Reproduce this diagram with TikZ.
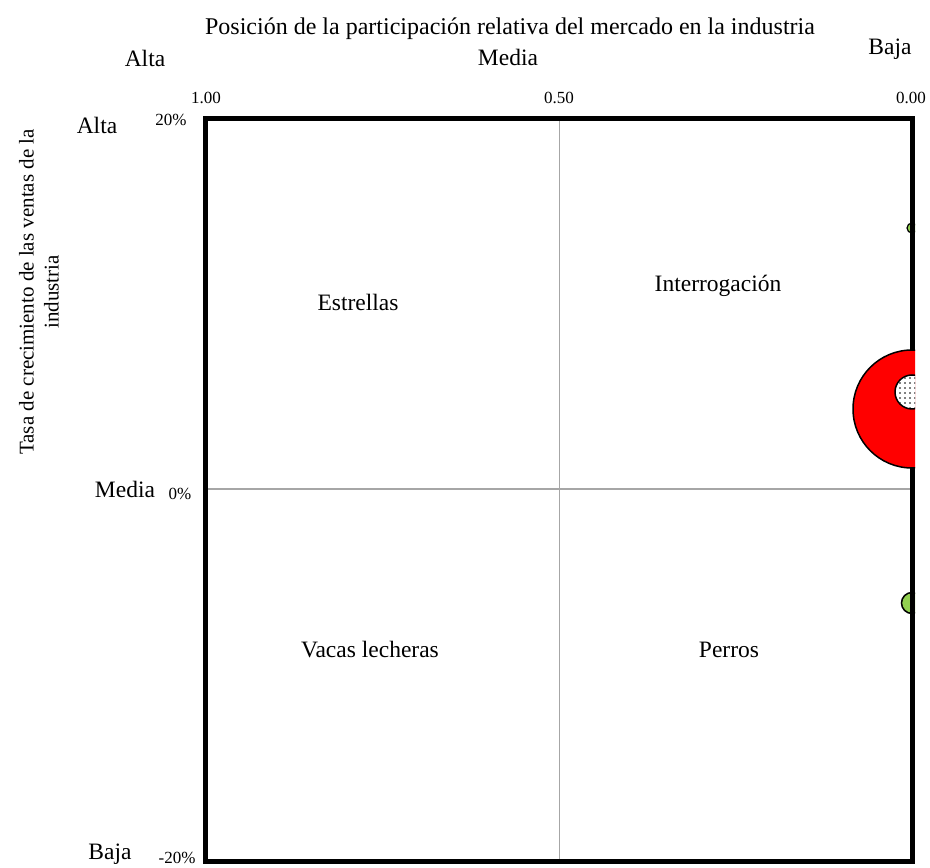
\documentclass[tikz,border=0pt]{standalone}
\usepackage{fontspec}
\setmainfont{Liberation Serif}
\usetikzlibrary{positioning,patterns.meta}
\definecolor{bubred}{RGB}{255,0,0}
\definecolor{bubgreen}{RGB}{146,208,80}
\definecolor{midgray}{RGB}{166,166,166}

\begin{document}
\begin{tikzpicture}[x=1pt, y=1pt, t/.style={font=\fontsize{23.5}{27}\selectfont, inner sep=0pt}, k/.style={font=\fontsize{17}{20}\selectfont, inner sep=0pt}, b/.style={draw=black, line width=1.5pt}, g/.style={draw=midgray, line width=1.5pt}]
	\useasboundingbox (0,0) rectangle (930,868);
	\coordinate (SW) at (205.5,6.5);
	\coordinate (NE) at (912.5,749.5);
	\coordinate (NW) at (205.5,749.5);
	\coordinate (N) at (559.5,748);
	\coordinate (S) at (559.5,7);
	\coordinate (W) at (205.5,379);
	\coordinate (E) at (912.5,379);

	% quadrant lines
	\draw[g] ([xshift=5pt]N) -- (N) -- (S) -- ([xshift=5pt]S);
	\draw[g] (W) -- (E);

	% small bubbles
	\begin{scope}
		\clip (SW) rectangle (915,749.5);
		\draw[b, line width=1.2pt, fill=bubgreen] (912,640) circle (5);
		\draw[b, fill=bubgreen] (912,265) circle (10.5);
	\end{scope}

	\draw[line width=5pt] (SW) rectangle (NE);

	% big bubble
	\begin{scope}
		\clip (SW) rectangle (915,749.5);
		\draw[b, fill=bubred] (912,459) circle (59);
		\draw[b, fill=white] (912,476) circle (17);
		\fill[pattern={Dots[distance=5pt, radius=0.8pt]}] (912,476) circle (16);
	\end{scope}

	% axis labels
	\node[t, font=\fontsize{24}{28}\selectfont] (title) at (510,839) {Posición de la participación relativa del mercado en la industria};
	\node[t] (x_alta) at (145,810) {Alta};
	\node[t] (x_media) at (508,811) {Media};
	\node[t] (x_baja) at (890,819) {Baja};
	\node[k] (x_one) at (206,770) {1.00};
	\node[k] (x_half) at (559,770) {0.50};
	\node[k] (x_zero) at (911,770) {0.00};

	\node[t, font=\fontsize{21}{25}\selectfont, rotate=90, align=center] (ytitle) at (39,576) {Tasa de crecimiento de las ventas de la\\industria};
	\node[t] (y_alta) at (97,743) {Alta};
	\node[k] (y_top) at (171,748) {20\%};
	\node[t] (y_media) at (125,379) {Media};
	\node[k] (y_mid) at (180,374) {0\%};
	\node[t] (y_baja) at (110,14) {Baja};
	\node[k] (y_low) at (177,10) {-20\%};

	% quadrants
	\node[t] (estrellas) at (358,566) {Estrellas};
	\node[t] (interrog) at (718,582) {Interrogación};
	\node[t] (vacas) at (370,218) {Vacas lecheras};
	\node[t] (perros) at (729,218) {Perros};
\end{tikzpicture}
\end{document}
